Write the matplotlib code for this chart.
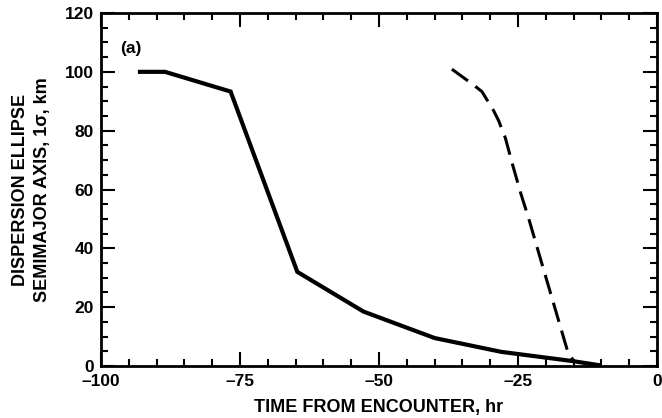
import matplotlib.pyplot as plt
from matplotlib.ticker import MultipleLocator, FuncFormatter

plt.rcParams['font.family'] = ['Liberation Sans', 'DejaVu Sans']

# solid curve
t_solid = [-93, -88.5, -76.7, -64.7, -52.8, -40, -28, -15.3, -10.5]
d_solid = [100, 100, 93.3, 32, 18.5, 9.5, 4.8, 1.7, 0.3]

# dashed curve
t_dash = [-36.9, -33.2, -31.5, -29.4, -28.5, -27.3, -26.0, -24.5, -23.1, -21.0, -16.0, -14.9]
d_dash = [100.9, 95.8, 93.3, 86.8, 83.4, 77.6, 68.5, 58.6, 50.2, 36.6, 4.4, 1.5]

fig = plt.figure(figsize=(6.62, 4.18), dpi=100)
ax = fig.add_axes([0.1526, 0.1244, 0.84, 0.8445])

ax.plot(t_solid, d_solid, color='black', lw=3, solid_joinstyle='miter')
ax.plot(t_dash, d_dash, color='black', lw=2.2, dashes=(6.5, 3))

ax.set_xlim(-100, 0)
ax.set_ylim(0, 120)
ax.xaxis.set_major_locator(MultipleLocator(25))
ax.xaxis.set_minor_locator(MultipleLocator(5))
ax.yaxis.set_major_locator(MultipleLocator(20))
ax.yaxis.set_minor_locator(MultipleLocator(5))
ax.xaxis.set_major_formatter(FuncFormatter(lambda v, p: ('%d' % v).replace('-', '\u2013')))

ax.tick_params(which='both', direction='in', top=True, right=True, width=1.5,
               labelsize=12.5)
ax.tick_params(axis='x', pad=6)
ax.tick_params(axis='y', pad=5)
ax.tick_params(which='major', length=10)
ax.tick_params(which='minor', length=5)
for lab in ax.get_xticklabels() + ax.get_yticklabels():
    lab.set_fontweight('bold')
ax.yaxis.get_major_ticks()[0].label1.set_va('bottom')
for s in ax.spines.values():
    s.set_linewidth(2)

ax.text(-96.5, 108, '(a)', fontsize=12.5, fontweight='bold', va='center')
ax.set_xlabel('TIME FROM ENCOUNTER, hr', fontsize=13, fontweight='bold', labelpad=7)
ax.set_ylabel('DISPERSION ELLIPSE\nSEMIMAJOR AXIS, 1\u03c3, km', fontsize=13,
              fontweight='bold', labelpad=10, linespacing=1.4)

fig.savefig('out.png', dpi=100)
